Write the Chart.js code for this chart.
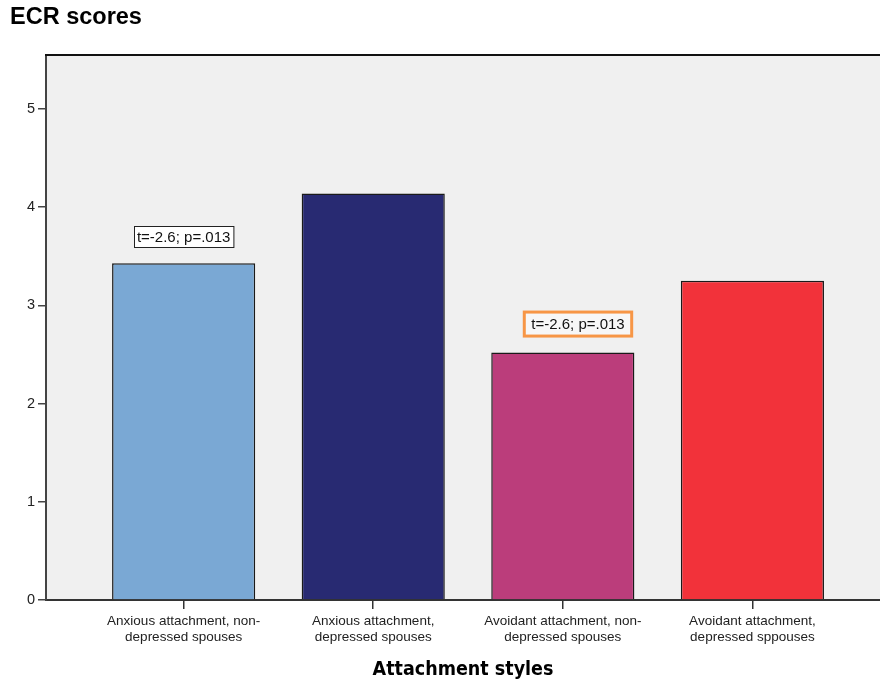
<!DOCTYPE html>
<html>
<head>
<meta charset="utf-8">
<title>ECR scores</title>
<script src="https://cdn.jsdelivr.net/npm/chart.js@4/dist/chart.umd.min.js"></script>
<style>
  html, body { margin: 0; padding: 0; background: #ffffff; }
  #wrap { width: 880px; height: 688px; }
</style>
</head>
<body>
<div id="wrap"><canvas id="ecrChart" width="880" height="688"></canvas></div>
<script>
// categories, values and colours
const groups = [
  ["Anxious attachment, non-", "depressed spouses"],
  ["Anxious attachment,", "depressed spouses"],
  ["Avoidant attachment, non-", "depressed spouses"],
  ["Avoidant attachment,", "depressed sppouses"],
];
const scores = [3.43, 4.14, 2.52, 3.25];
const barColors = ["#7aa8d4", "#282a72", "#bb3d7b", "#f2323a"];

const yTicks = [0, 1, 2, 3, 4, 5];

// t-test notes: text, x position (category units), y position (score units)
const noteText = ["t=-2.6; p=.013", "t=-2.6; p=.013"];
const noteX = [1, 3.08];
const noteY = [3.70, 2.81];

const tickFont = { family: "'Liberation Sans', Arial, sans-serif", size: 13.5 };

// plot background, top frame, title and the note boxes
const decorations = {
  id: "decorations",
  beforeDraw(chart) {
    const { ctx, chartArea } = chart;
    ctx.save();
    ctx.fillStyle = "#f0f0f0";
    ctx.fillRect(chartArea.left, chartArea.top, chartArea.right - chartArea.left, chartArea.bottom - chartArea.top);
    ctx.restore();
  },
  afterDraw(chart) {
    const { ctx, chartArea, scales } = chart;
    ctx.save();
    // top frame line
    ctx.strokeStyle = "#111";
    ctx.lineWidth = 2;
    ctx.beginPath();
    ctx.moveTo(chartArea.left - 1, chartArea.top);
    ctx.lineTo(chartArea.right, chartArea.top);
    ctx.stroke();

    // title
    ctx.fillStyle = "#000";
    ctx.font = "bold 23.5px 'Liberation Sans', Arial, sans-serif";
    ctx.textBaseline = "middle";
    ctx.textAlign = "left";
    ctx.fillText("ECR scores", 10, 18);

    // notes
    ctx.font = "15px 'Liberation Sans', Arial, sans-serif";
    ctx.textAlign = "center";
    noteText.forEach((txt, i) => {
      const cx = scales.x.getPixelForValue(noteX[i]);
      const cy = scales.y.getPixelForValue(noteY[i]);
      const w = ctx.measureText(txt).width;
      if (i === 0) {
        const bw = w + 6, bh = 21;
        ctx.fillStyle = "#ffffff";
        ctx.fillRect(cx - bw / 2, cy - bh / 2, bw, bh);
        ctx.strokeStyle = "#222";
        ctx.lineWidth = 1;
        ctx.strokeRect(Math.round(cx - bw / 2) + 0.5, Math.round(cy - bh / 2) + 0.5, bw, bh);
      } else {
        const bw = w + 14, bh = 24;
        ctx.fillStyle = "#f7f7f7";
        ctx.fillRect(cx - bw / 2, cy - bh / 2, bw, bh);
        ctx.strokeStyle = "#f79646";
        ctx.lineWidth = 3;
        ctx.strokeRect(cx - bw / 2, cy - bh / 2, bw, bh);
      }
      ctx.fillStyle = "#111";
      ctx.fillText(txt, cx, cy + 1);
    });
    ctx.restore();
  },
};

const ctx = document.getElementById("ecrChart").getContext("2d");

const chart = new Chart(ctx, {
  type: "bar",
  data: {
    datasets: [
      {
        label: "ECR scores",
        data: scores.map((v, i) => ({ x: i + 1, y: v })),
        backgroundColor: barColors,
        borderColor: "#1a1a1a",
        borderWidth: 1.5,
        barPercentage: 0.755,
        categoryPercentage: 1,
      },
    ],
  },
  options: {
    responsive: false,
    animation: false,
    layout: { padding: { top: 55, left: 0, right: 0, bottom: 0 } },
    plugins: {
      legend: { display: false },
      tooltip: { enabled: false },
      title: { display: false },
    },
    scales: {
      x: {
        type: "linear",
        offset: false,
        min: 0.274,
        max: 4.673,
        afterBuildTicks(scale) {
          scale.ticks = groups.map((g, i) => ({ value: i + 1 }));
        },
        afterFit(scale) {
          scale.height = 88;
        },
        grid: {
          display: true,
          offset: false,
          drawOnChartArea: false,
          drawTicks: true,
          tickLength: 9,
          color: "#333",
          lineWidth: 1.5,
        },
        border: { display: true, color: "#333", width: 2 },
        ticks: {
          autoSkip: false,
          maxRotation: 0,
          padding: 4,
          color: "#222",
          font: { ...tickFont, lineHeight: 1.18 },
          callback: (value) => groups[value - 1] || "",
        },
        title: {
          display: true,
          text: "Attachment styles",
          color: "#000",
          font: { family: "'DejaVu Sans Condensed', 'DejaVu Sans', sans-serif", size: 19.5, weight: "bold" },
          padding: { top: 0, bottom: 6 },
        },
      },
      y: {
        min: 0,
        max: 5.55,
        afterBuildTicks(scale) {
          scale.ticks = yTicks.map((v) => ({ value: v }));
        },
        afterFit(scale) {
          scale.width = 46;
        },
        grid: {
          display: true,
          drawOnChartArea: false,
          drawTicks: true,
          tickLength: 8,
          color: "#444",
          lineWidth: 1.5,
        },
        border: { display: true, color: "#444", width: 2 },
        ticks: {
          padding: 3,
          color: "#222",
          font: { ...tickFont, size: 14.5 },
        },
      },
    },
  },
  plugins: [decorations],
});
</script>
</body>
</html>
